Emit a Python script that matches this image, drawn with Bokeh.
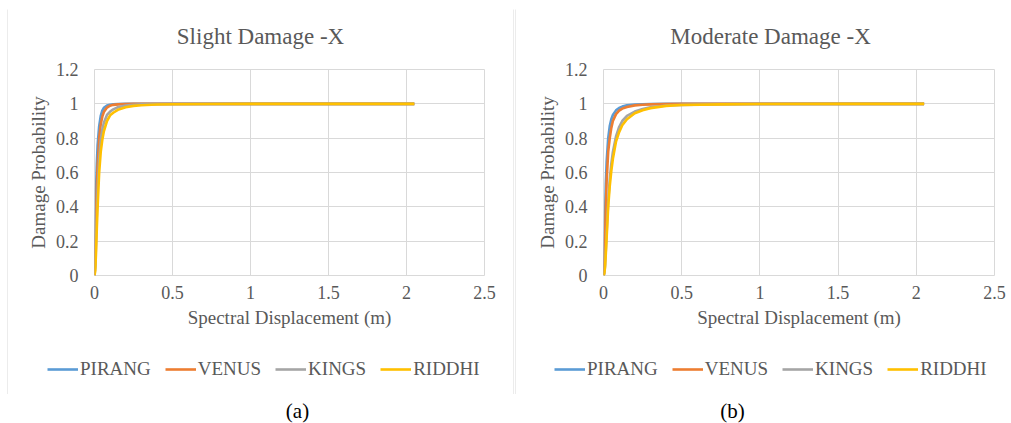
from bokeh.plotting import figure
from bokeh.layouts import row, column
from bokeh.models import (Range1d, FixedTicker, Legend, LegendItem, Label, Spacer)
from bokeh.embed import file_html
from bokeh.resources import INLINE

# ---------------- data ----------------
series_names = ["PIRANG", "VENUS", "KINGS", "RIDDHI"]
series_colors = ["#5B9BD5", "#ED7D31", "#A5A5A5", "#FFC000"]

# spectral displacement (m)
sd = [0, 0.005, 0.01, 0.015, 0.02, 0.03, 0.04, 0.05, 0.06, 0.08, 0.1, 0.12,
      0.15, 0.2, 0.25, 0.3, 0.4, 0.5, 0.75, 1.0, 1.5, 2.05]

# Slight damage -X
slight_pirang = [0, 0.22, 0.5, 0.65, 0.76, 0.87, 0.93, 0.96, 0.977, 0.99, 0.995, 0.997,
                 0.999, 1, 1, 1, 1, 1, 1, 1, 1, 1]
slight_venus = [0, 0.12, 0.35, 0.52, 0.64, 0.8, 0.88, 0.925, 0.952, 0.978, 0.989, 0.994,
                0.997, 0.999, 1, 1, 1, 1, 1, 1, 1, 1]
slight_kings = [0, 0.05, 0.2, 0.36, 0.5, 0.68, 0.79, 0.85, 0.89, 0.935, 0.955, 0.968,
                0.98, 0.99, 0.995, 0.997, 0.999, 1, 1, 1, 1, 1]
slight_riddhi = [0, 0.03, 0.14, 0.28, 0.4, 0.6, 0.72, 0.79, 0.84, 0.9, 0.933, 0.948,
                 0.965, 0.98, 0.988, 0.992, 0.996, 0.998, 0.999, 1, 1, 1]

# Moderate damage -X
moderate_pirang = [0, 0.1, 0.33, 0.54, 0.66, 0.8, 0.87, 0.91, 0.935, 0.962, 0.976, 0.984,
                   0.991, 0.996, 0.998, 0.999, 1, 1, 1, 1, 1, 1]
moderate_venus = [0, 0.06, 0.22, 0.4, 0.55, 0.72, 0.8, 0.86, 0.9, 0.94, 0.96, 0.972,
                  0.982, 0.991, 0.995, 0.997, 0.999, 1, 1, 1, 1, 1]
moderate_kings = [0, 0.01, 0.06, 0.15, 0.25, 0.43, 0.56, 0.65, 0.72, 0.81, 0.865, 0.9,
                  0.93, 0.955, 0.97, 0.98, 0.99, 0.994, 0.998, 0.999, 1, 1]
moderate_riddhi = [0, 0.01, 0.05, 0.13, 0.22, 0.4, 0.52, 0.61, 0.68, 0.78, 0.835, 0.875,
                   0.91, 0.945, 0.963, 0.975, 0.988, 0.993, 0.997, 0.999, 1, 1]

x_ticks = [0, 0.5, 1, 1.5, 2, 2.5]
x_tick_labels = ["0", "0.5", "1", "1.5", "2", "2.5"]
y_ticks = [0, 0.2, 0.4, 0.6, 0.8, 1.0, 1.2]
y_tick_labels = ["0", "0.2", "0.4", "0.6", "0.8", "1", "1.2"]

titles = ["Slight Damage -X", "Moderate Damage -X"]
captions = ["(a)", "(b)"]
x_label = "Spectral Displacement (m)"
y_label = "Damage Probability"

FONT = "Liberation Serif"
TXT = "#595959"
GRID = "#d9d9d9"


def blank(width, height, color="white", y_range=(0, 1)):
    f = figure(width=width, height=height, output_backend="svg", toolbar_location=None,
               x_range=Range1d(0, 1), y_range=Range1d(*y_range),
               x_axis_location=None, y_axis_location=None, min_border=0,
               outline_line_color=None, background_fill_color=color,
               border_fill_color=color)
    f.grid.visible = False
    return f


def make_title(width, text, cx):
    f = blank(width, 40)
    f.add_layout(Label(x=cx, y=14, x_units="screen", y_units="screen",
                       text=text, text_align="center", text_baseline="middle",
                       text_font=FONT, text_font_size="23px", text_color=TXT))
    return f


def make_chart(width, left, right, ys):
    p = figure(width=width, height=300, output_backend="svg", toolbar_location=None,
               x_range=Range1d(0, 2.5), y_range=Range1d(0, 1.2),
               min_border_left=left, min_border_right=right,
               min_border_top=19, min_border_bottom=75,
               background_fill_color="white", border_fill_color="white")
    p.outline_line_color = GRID
    p.grid.grid_line_color = GRID
    p.grid.grid_line_width = 1
    p.xaxis.ticker = FixedTicker(ticks=x_ticks)
    p.yaxis.ticker = FixedTicker(ticks=y_ticks)
    p.xaxis.major_label_overrides = {t: l for t, l in zip(x_ticks, x_tick_labels)}
    p.yaxis.major_label_overrides = {t: l for t, l in zip(y_ticks, y_tick_labels)}
    for ax in (p.xaxis, p.yaxis):
        ax.axis_line_color = None
        ax.major_tick_line_color = None
        ax.minor_tick_line_color = None
        ax.major_tick_out = 0
        ax.major_tick_in = 0
        ax.major_label_text_font = FONT
        ax.major_label_text_font_size = "18px"
        ax.major_label_text_color = TXT
        ax.axis_label_text_font = FONT
        ax.axis_label_text_font_size = "19px"
        ax.axis_label_text_color = TXT
        ax.axis_label_text_font_style = "normal"
    p.xaxis.axis_label = x_label
    p.yaxis.axis_label = y_label
    p.xaxis.major_label_standoff = 10
    p.xaxis.axis_label_standoff = 5
    p.yaxis.major_label_standoff = 16
    p.yaxis.axis_label_standoff = 4

    for name, color, y in zip(series_names, series_colors, ys):
        p.line(sd, y, line_color=color, line_width=2.6)
    return p


def make_legend(width, legend_x, ys):
    # legend strip: the series renderers sit outside this strip's y range,
    # so only their legend samples show
    f = blank(width, 43, y_range=(5, 6))
    items = []
    for name, color, y in zip(series_names, series_colors, ys):
        r = f.line(sd, y, line_color=color, line_width=2.6)
        items.append(LegendItem(label=name, renderers=[r]))
    legend = Legend(items=items, orientation="horizontal", location=(legend_x, 13),
                    glyph_width=31, glyph_height=20, label_height=20,
                    label_standoff=2, spacing=14, padding=0, margin=0,
                    border_line_color=None, background_fill_alpha=0,
                    label_text_font=FONT, label_text_font_size="19px",
                    label_text_color=TXT)
    f.add_layout(legend)
    return f


ys_a = [slight_pirang, slight_venus, slight_kings, slight_riddhi]
ys_b = [moderate_pirang, moderate_venus, moderate_kings, moderate_riddhi]
title_a = make_title(505, titles[0], 252)
title_b = make_title(495, titles[1], 254)
chart_a = make_chart(505, 86, 29, ys_a)
chart_b = make_chart(495, 87, 17, ys_b)
leg_a = make_legend(505, 39, ys_a)
leg_b = make_legend(495, 38, ys_b)

panel_a = row(blank(1, 385, GRID),
              column(blank(505, 1, GRID), row(title_a), chart_a, row(leg_a),
                     blank(505, 1, GRID)),
              blank(1, 385, GRID))
panel_b = row(blank(1, 385, GRID),
              column(blank(495, 1, GRID), row(title_b), chart_b, row(leg_b),
                     blank(495, 1, GRID)))

# caption strip under the two panels
cap = blank(1011, 29)
for text, cx in zip(captions, [297, 732]):
    cap.add_layout(Label(x=cx, y=13, x_units="screen", y_units="screen",
                         text=text, text_align="center", text_baseline="middle",
                         text_font=FONT, text_font_size="21px", text_color="black"))

layout = column(Spacer(height=9, width=1011),
                row(Spacer(width=7, height=385), panel_a, Spacer(width=1, height=385), panel_b),
                cap)
open("out.html", "w").write(file_html(layout, INLINE))
